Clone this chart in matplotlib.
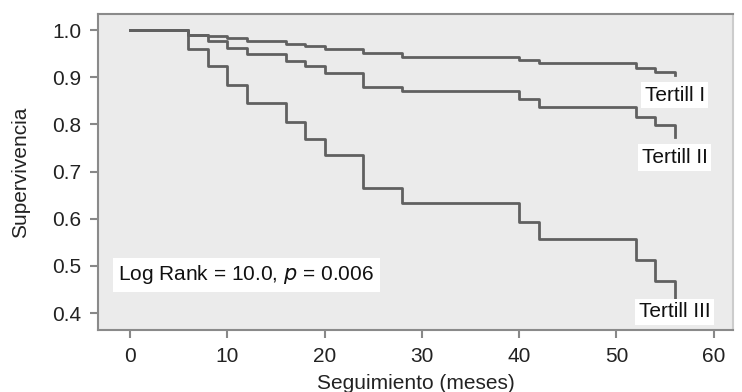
import numpy as np
import matplotlib.pyplot as plt

plt.rcParams['font.family'] = ['Liberation Sans', 'DejaVu Sans']

# step times (months) shared by the three curves
t = [0, 6, 8, 10, 12, 16, 18, 20, 24, 28, 40, 42, 52, 54, 56]
surv_I = [1.0, 0.990, 0.987, 0.983, 0.978, 0.970, 0.966, 0.960, 0.952, 0.943, 0.936, 0.930, 0.920, 0.912, 0.904]
surv_II = [1.0, 0.990, 0.978, 0.963, 0.950, 0.935, 0.925, 0.910, 0.880, 0.870, 0.855, 0.836, 0.815, 0.798, 0.773]
surv_III = [1.0, 0.961, 0.925, 0.883, 0.845, 0.805, 0.770, 0.735, 0.665, 0.633, 0.593, 0.557, 0.513, 0.467, 0.433]
labels = ["Tertill I", "Tertill II", "Tertill III"]
label_y = [0.862, 0.730, 0.403]

fs = 15

fig = plt.figure(figsize=(7.42, 3.92), dpi=100)
ax = fig.add_axes([0.132, 0.158, 0.856, 0.806])
ax.set_facecolor('#ebebeb')

for s in [surv_I, surv_II, surv_III]:
    ax.step(t, s, where='post', color='#606060', lw=2.0)

for lab, y in zip(labels, label_y):
    ax.text(56.0, y, lab, ha='center', va='center', fontsize=fs, color='#111111',
            bbox=dict(facecolor='white', edgecolor='none', pad=2.5))

ax.text(-1.2, 0.481, "Log Rank = 10.0, $\\it{p}$ = 0.006", ha='left', va='center',
        fontsize=fs, color='#111111',
        bbox=dict(facecolor='white', edgecolor='none', pad=4))

ax.set_xlim(-3.3, 62)
ax.set_ylim(0.364, 1.034)
ax.set_xticks([0, 10, 20, 30, 40, 50, 60])
ax.set_yticks([0.4, 0.5, 0.6, 0.7, 0.8, 0.9, 1.0])
ax.set_yticklabels(["0.4", "0.5", "0.6", "0.7", "0.8", "0.9", "1.0"])
ax.tick_params(labelsize=fs, colors='#222222', length=6, width=1.5, pad=6)
ax.tick_params(axis='both', color='#888888')

for sp in ax.spines.values():
    sp.set_color('#8a8a8a')
    sp.set_linewidth(1.5)
ax.spines['right'].set_color('#cccccc')

ax.set_xlabel("Seguimiento (meses)", fontsize=fs, color='#222222', labelpad=6)
ax.set_ylabel("Supervivencia", fontsize=fs, color='#222222', labelpad=16)

fig.savefig("out.png", dpi=100)
